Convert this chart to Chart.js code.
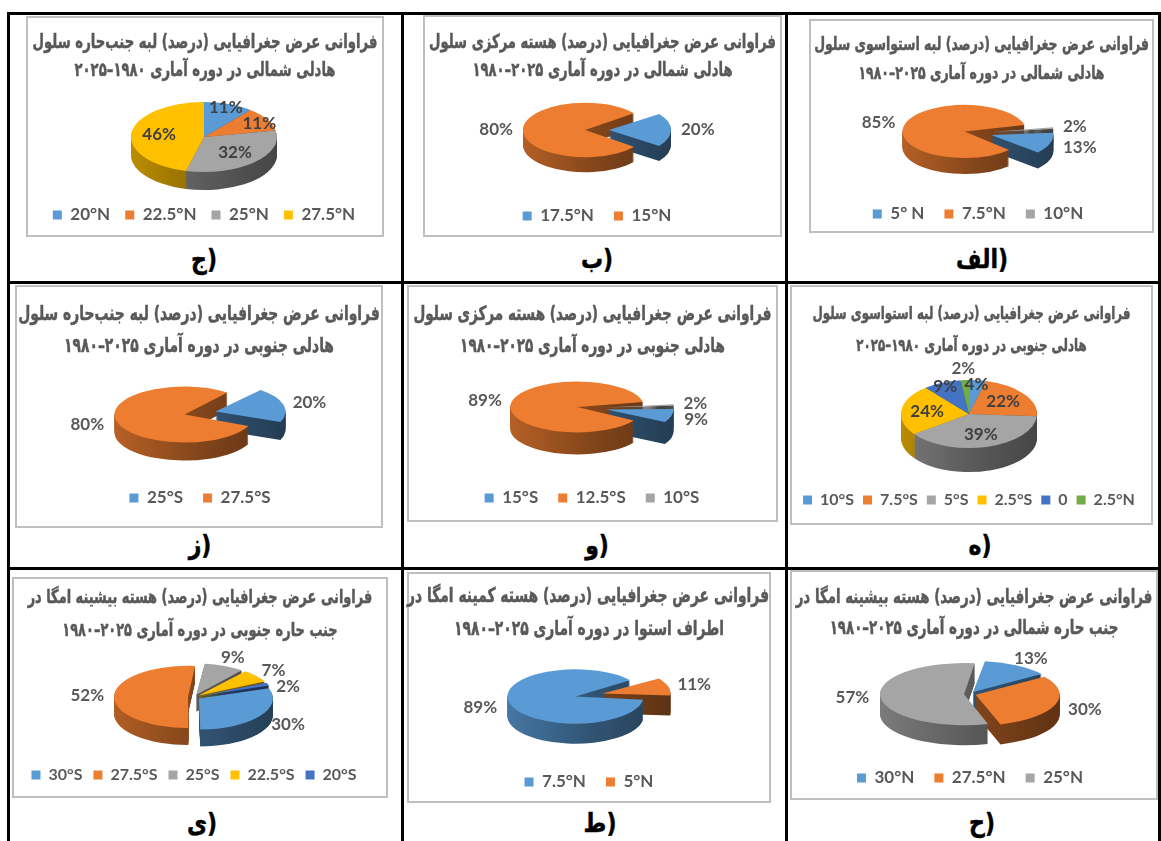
<!DOCTYPE html>
<html lang="fa">
<head>
<meta charset="utf-8">
<title>فراوانی عرض جغرافیایی سلول هادلی ۱۹۸۰–۲۰۲۵</title>
<script src="https://cdn.jsdelivr.net/npm/chart.js@4.4.1/dist/chart.umd.min.js"></script>
<style>
  html, body { margin: 0; padding: 0; background: #fff; }
  #page { position: relative; width: 1161px; height: 841px; overflow: hidden; }
  .rule { position: absolute; background: #000; }
  .frame { position: absolute; box-sizing: border-box; border: 2px solid #BFBFBF; background: #fff; }
  .frame canvas { position: absolute; left: 0; top: 0; }
  .title {
    position: absolute; left: 0; right: 0; height: 24px; line-height: 24px;
    text-align: center; direction: rtl; white-space: nowrap; z-index: 2;
    font-family: 'DejaVu Sans', sans-serif; font-weight: bold; font-size: 16px; color: #595959;
    transform: scaleY(1.45);
    -webkit-text-stroke: 0.35px #595959;
  }
  .title span { display: inline-block; }
  .tag {
    position: absolute; transform: translate(-50%, -50%) scaleY(1.2); direction: ltr; white-space: nowrap;
    font-family: 'DejaVu Sans', sans-serif; font-weight: bold; font-size: 22px; color: #000;
    -webkit-text-stroke: 0.4px #000;
  }
  .tag span { display: inline-block; }
</style>
</head>
<body>
<div id="page"></div>
<script>
/* ===== Data: frequency (%) of each latitude band ===== */

// (الف) equatorward edge, northern Hadley cell
const latAlef = ['5° N', '7.5°N', '10°N'];
const pctAlef = [13, 85, 2];

// (ب) central core, northern Hadley cell
const latBe = ['17.5°N', '15°N'];
const pctBe = [20, 80];

// (ج) subtropical edge, northern Hadley cell
const latJim = ['20°N', '22.5°N', '25°N', '27.5°N'];
const pctJim = [11, 11, 32, 46];

// (ه) equatorward edge, southern Hadley cell
const latHe = ['10°S', '7.5°S', '5°S', '2.5°S', '0', '2.5°N'];
const pctHe = [4, 22, 39, 24, 9, 2];

// (و) central core, southern Hadley cell
const latVav = ['15°S', '12.5°S', '10°S'];
const pctVav = [9, 89, 2];

// (ز) subtropical edge, southern Hadley cell
const latZe = ['25°S', '27.5°S'];
const pctZe = [20, 80];

// (ح) omega maximum core, northern subtropics
const latHa = ['30°N', '27.5°N', '25°N'];
const pctHa = [13, 30, 57];

// (ط) omega minimum core, around the equator
const latTa = ['7.5°N', '5°N'];
const pctTa = [89, 11];

// (ی) omega maximum core, southern subtropics
const latYe = ['30°S', '27.5°S', '25°S', '22.5°S', '20°S'];
const pctYe = [30, 52, 9, 7, 2];

/* ===== Excel palette ===== */
const BLUE = '#5B9BD5', ORANGE = '#ED7D31', GRAY = '#A5A5A5',
      YELLOW = '#FFC000', NAVY = '#4472C4', GREEN = '#70AD47';

const T1_EDGE = 'فراوانی عرض جغرافیایی (درصد) لبه جنب‌حاره سلول';
const T1_CORE = 'فراوانی عرض جغرافیایی (درصد) هسته مرکزی سلول';
const T1_EQ   = 'فراوانی عرض جغرافیایی (درصد) لبه استواسوی سلول';
const T1_MAX  = 'فراوانی عرض جغرافیایی (درصد) هسته بیشینه امگا در';
const T1_MIN  = 'فراوانی عرض جغرافیایی (درصد) هسته کمینه امگا در';

/* ===== Panel layout (frame = [left, top, width, height]) ===== */
const PANELS = [
  { labels: latJim, values: pctJim, colors: [BLUE, ORANGE, GRAY, YELLOW],
    frame: [26, 16, 358, 221], titles: [T1_EDGE, 'هادلی شمالی در دوره آماری ۱۹۸۰–۲۰۲۵'], titleY: [42, 70], titleW: 345,
    cx: 204, cy: 137, r: 73, k: 0.48, depth: 18, rot: 0, explode: 0, inside: true,
    legendY: 215, legendFont: 17, legendPad: 15, tag: 'ج', tagX: 204, tagY: 259 },
  { labels: latBe, values: pctBe, colors: [BLUE, ORANGE],
    frame: [423, 15, 359, 222], titles: [T1_CORE, 'هادلی شمالی در دوره آماری ۲۰۲۵–۱۹۸۰'], titleY: [42, 70], titleW: 347,
    cx: 597, cy: 130, r: 62, k: 0.44, depth: 15, rot: 54, explode: 12, inside: false,
    legendY: 216, legendFont: 17, legendPad: 20, tag: 'ب', tagX: 597, tagY: 259 },
  { labels: latAlef, values: pctAlef, colors: [BLUE, ORANGE, GRAY],
    frame: [809, 19, 345, 214], titles: [T1_EQ, 'هادلی شمالی در دوره آماری ۲۰۲۵–۱۹۸۰'], titleY: [44, 73], titleW: 335,
    cx: 978, cy: 133, r: 62, k: 0.43, depth: 16, rot: 85, explode: 14, inside: false,
    legendY: 214, legendFont: 17, legendPad: 20, tag: 'الف', tagX: 982, tagY: 259 },

  { labels: latZe, values: pctZe, colors: [BLUE, ORANGE],
    frame: [15, 285, 368, 243], titles: [T1_EDGE, 'هادلی جنوبی در دوره آماری ۲۰۲۵–۱۹۸۰'], titleY: [313, 345], titleW: 362,
    cx: 200, cy: 413, r: 70, k: 0.4, depth: 18, rot: 40, explode: 16, inside: false,
    legendY: 498, legendFont: 17, legendPad: 20, tag: 'ز', tagX: 200, tagY: 545 },
  { labels: latVav, values: pctVav, colors: [BLUE, ORANGE, GRAY],
    frame: [407, 285, 371, 237], titles: [T1_CORE, 'هادلی جنوبی در دوره آماری ۲۰۲۵–۱۹۸۰'], titleY: [313, 345], titleW: 358,
    cx: 592, cy: 408, r: 67, k: 0.38, depth: 22, rot: 88, explode: 15, inside: false,
    legendY: 498, legendFont: 17, legendPad: 20, tag: 'و', tagX: 597, tagY: 545 },
  { labels: latHe, values: pctHe, colors: [BLUE, ORANGE, GRAY, YELLOW, NAVY, GREEN],
    frame: [790, 285, 363, 240], titles: [T1_EQ, 'هادلی جنوبی در دوره آماری ۱۹۸۰–۲۰۲۵'], titleY: [313, 345], titleW: 318,
    cx: 969, cy: 414, r: 68, k: 0.5, depth: 24, rot: 0, explode: 0, inside: true,
    legendY: 500, legendFont: 16, legendPad: 9, tag: 'ه', tagX: 980, tagY: 545 },

  { labels: latYe, values: pctYe, colors: [BLUE, ORANGE, GRAY, YELLOW, NAVY],
    frame: [12, 577, 376, 221], titles: [T1_MAX, 'جنب حاره جنوبی در دوره آماری ۲۰۲۵–۱۹۸۰'], titleY: [597, 630], titleW: 345,
    cx: 194, cy: 697, r: 74, k: 0.42, depth: 17, rot: 71, explode: 6, inside: false,
    legendY: 775, legendFont: 16, legendPad: 11, tag: 'ی', tagX: 202, tagY: 823 },
  { labels: latTa, values: pctTa, colors: [BLUE, ORANGE],
    frame: [407, 572, 364, 231], titles: [T1_MIN, 'اطراف استوا در دوره آماری ۲۰۲۵–۱۹۸۰'], titleY: [595, 628], titleW: 362,
    cx: 589, cy: 695, r: 68, k: 0.4, depth: 20, rot: 95, explode: 14, inside: false,
    legendY: 782, legendFont: 17, legendPad: 20, tag: 'ط', tagX: 600, tagY: 823 },
  { labels: latHa, values: pctHa, colors: [BLUE, ORANGE, GRAY],
    frame: [790, 570, 368, 230], titles: [T1_MAX, 'جنب حاره شمالی در دوره آماری ۲۰۲۵–۱۹۸۰'], titleY: [597, 628], titleW: 357,
    cx: 970, cy: 694, r: 84, k: 0.37, depth: 20, rot: 8, explode: 6, inside: false,
    legendY: 778, legendFont: 17, legendPad: 20, tag: 'ح', tagX: 982, tagY: 823 },
];

/* ===== Helpers ===== */

function shade(hex, f) {
  const n = parseInt(hex.slice(1), 16);
  const r = Math.round(((n >> 16) & 255) * f);
  const g = Math.round(((n >> 8) & 255) * f);
  const b = Math.round((n & 255) * f);
  return `rgb(${r}, ${g}, ${b})`;
}

// Same geometry the arc element uses when it draws itself (offset / 4, angle trim)
function arcGeom(a) {
  const off = (a.options.offset || 0) / 4;
  const alpha = a.endAngle - a.startAngle;
  const ro = off * (1 - Math.sin(Math.min(Math.PI, alpha)));
  const R = a.outerRadius + ro;
  const beta = Math.max(0.001, alpha * R - ro / Math.PI) / R;
  const cut = (alpha - beta) / 2;
  const mid = (a.startAngle + a.endAngle) / 2;
  return {
    x: a.x + Math.cos(mid) * off,
    y: a.y + Math.sin(mid) * off,
    R, mid,
    start: a.startAngle + cut,
    end: a.endAngle - cut,
  };
}

/* ===== 3D pie plugin: flattened top + extruded side + % labels ===== */

const pie3d = {
  id: 'pie3d',

  // keep exploded slices at the same radius as the others
  afterDatasetUpdate(chart, args) {
    args.meta.data.forEach(a => {
      const off = (a.options.offset || 0) / 4;
      const alpha = a.endAngle - a.startAngle;
      a.outerRadius -= off * (1 - Math.sin(Math.min(Math.PI, alpha)));
    });
  },

  beforeDatasetsDraw(chart, args, opts) {
    const ctx = chart.ctx;
    const arcs = chart.getDatasetMeta(0).data;
    const colors = chart.data.datasets[0].backgroundColor;
    const cx = arcs[0].x, cy = arcs[0].y;
    const R = opts.r;

    const sides = colors.map(c => {
      const gr = ctx.createLinearGradient(cx - R - 20, 0, cx + R + 20, 0);
      gr.addColorStop(0, shade(c, 0.78));
      gr.addColorStop(0.5, shade(c, 0.55));
      gr.addColorStop(1, shade(c, 0.38));
      return gr;
    });

    for (let d = opts.depth; d >= 1; d--) {
      ctx.save();
      ctx.translate(cx, cy + d);
      ctx.scale(1, opts.k);
      ctx.translate(-cx, -cy);
      arcs.forEach((a, i) => {
        const g = arcGeom(a);
        ctx.beginPath();
        ctx.moveTo(g.x, g.y);
        ctx.arc(g.x, g.y, g.R, g.start, g.end);
        ctx.closePath();
        ctx.fillStyle = sides[i];
        ctx.fill();
      });
      ctx.restore();
    }

    // top face: let Chart.js draw the arcs in a squashed space
    ctx.save();
    ctx.translate(cx, cy);
    ctx.scale(1, opts.k);
    ctx.translate(-cx, -cy);
  },

  afterDatasetsDraw(chart, args, opts) {
    const ctx = chart.ctx;
    ctx.restore();

    const arcs = chart.getDatasetMeta(0).data;
    const values = chart.data.datasets[0].data;
    ctx.save();
    ctx.font = "bold 17px Lato";
    ctx.textAlign = 'center';
    ctx.textBaseline = 'middle';
    const h = 14;
    const placed = [];

    arcs.forEach((a, i) => {
      const g = arcGeom(a);
      const text = values[i] + '%';
      const w = ctx.measureText(text).width;
      const cos = Math.cos(g.mid), sin = Math.sin(g.mid);
      const ey = a.y + (g.y - a.y) * opts.k;
      const inside = opts.inside && values[i] > 2;
      let x, y;
      if (inside) {
        const rf = values[i] < 15 ? 0.88 : 0.62;
        x = g.x + cos * g.R * rf;
        y = ey + sin * g.R * rf * opts.k;
      } else {
        const gap = 10 + 14 * Math.max(0, sin);
        x = g.x + cos * (g.R + gap) + cos * w / 2;
        y = ey + sin * (g.R + 5) * opts.k + sin * h / 2 + Math.max(0, sin) * opts.depth * 0.3;
      }
      // push apart labels that collide
      placed.forEach(b => {
        if (Math.abs(x - b.x) < (w + b.w) / 2 + 2 && Math.abs(y - b.y) < h + 2) {
          y = y >= b.y ? b.y + h + 2 : b.y - h - 2;
        }
      });
      placed.push({ x, y, w });
      ctx.fillStyle = inside ? '#404040' : '#595959';
      ctx.fillText(text, x, y);
    });
    ctx.restore();
  }
};

/* ===== Page ===== */

const page = document.getElementById('page');

function addRule(x, y, w, h) {
  const d = document.createElement('div');
  d.className = 'rule';
  Object.assign(d.style, { left: x + 'px', top: y + 'px', width: w + 'px', height: h + 'px' });
  page.appendChild(d);
}

[7, 401, 785, 1158].forEach(x => addRule(x, 12, 3, 841 - 12));
[12, 281, 567].forEach(y => addRule(7, y, 1161 - 7, 3));

PANELS.forEach(p => {
  const [fl, ft, fw, fh] = p.frame;
  const frame = document.createElement('div');
  frame.className = 'frame';
  Object.assign(frame.style, { left: fl + 'px', top: ft + 'px', width: fw + 'px', height: fh + 'px' });
  page.appendChild(frame);

  const ox = fl + 2, oy = ft + 2;
  const W = fw - 4, H = fh - 4;

  // titles (fit first line to the width seen in the figure)
  const spans = p.titles.map((t, i) => {
    const div = document.createElement('div');
    div.className = 'title';
    div.style.top = (p.titleY[i] - oy - 12) + 'px';
    const s = document.createElement('span');
    s.textContent = t;
    div.appendChild(s);
    frame.appendChild(div);
    return s;
  });
  const fs = 16 * p.titleW / spans[0].getBoundingClientRect().width;
  spans.forEach(s => { s.parentNode.style.fontSize = fs.toFixed(2) + 'px'; });

  const canvas = document.createElement('canvas');
  canvas.width = W;
  canvas.height = H;
  canvas.style.width = W + 'px';
  canvas.style.height = H + 'px';
  frame.appendChild(canvas);

  // padding so the legend text and the pie centre land where they are in the figure
  const lf = p.legendFont;
  const padBottom = H - (p.legendY - oy) - lf / 2 - 10;
  const legendTop = H - padBottom - (lf + p.legendPad + 10);
  const padTop = 2 * (p.cy - oy) - legendTop;
  const dx = p.cx - (ox + W / 2);

  new Chart(canvas.getContext('2d'), {
    type: 'pie',
    data: {
      labels: p.labels,
      datasets: [{
        data: p.values,
        backgroundColor: p.colors,
        borderWidth: 0,
        offset: p.values.map(() => p.explode * 4),
        rotation: p.rot,
        radius: p.r,
        clip: false,
      }]
    },
    options: {
      responsive: false,
      animation: false,
      events: [],
      layout: {
        padding: {
          top: padTop, bottom: padBottom,
          left: Math.max(0, 2 * dx), right: Math.max(0, -2 * dx),
        }
      },
      plugins: {
        tooltip: { enabled: false },
        legend: {
          position: 'bottom',
          labels: {
            boxWidth: 9,
            boxHeight: 9,
            padding: p.legendPad,
            color: '#595959',
            font: { family: 'Lato', size: lf, weight: 'bold' },
          }
        },
        pie3d: { r: p.r, k: p.k, depth: p.depth, inside: p.inside },
      }
    },
    plugins: [pie3d]
  });

  // panel letter followed by ")" on its right, as in the figure
  const tag = document.createElement('div');
  tag.className = 'tag';
  const letter = document.createElement('span');
  letter.textContent = p.tag;
  const paren = document.createElement('span');
  paren.textContent = ')';
  tag.append(letter, paren);
  tag.style.left = p.tagX + 'px';
  tag.style.top = p.tagY + 'px';
  page.appendChild(tag);
});
</script>
</body>
</html>
